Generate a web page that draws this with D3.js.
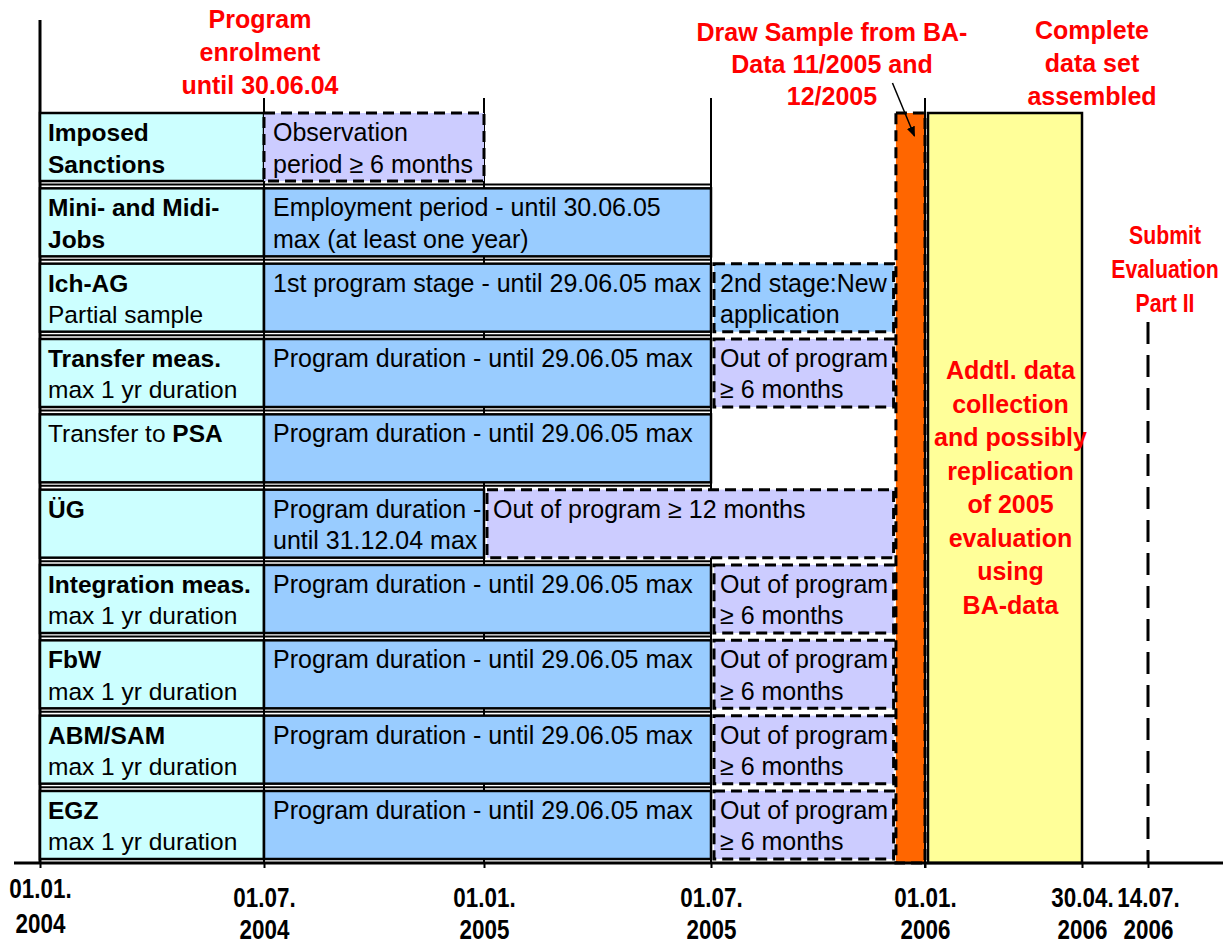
<!DOCTYPE html>
<html>
<head>
<meta charset="utf-8">
<script src="https://cdn.jsdelivr.net/npm/d3@7"></script>
<style>
  body { margin: 0; background: #fff; }
  svg { display: block; font-family: "Liberation Sans", Arial, sans-serif; }
</style>
</head>
<body>
<svg id="chart"></svg>
<script>
// rows of the timeline (label column)
const rows = ["Imposed Sanctions", "Mini- and Midi-Jobs", "Ich-AG", "Transfer meas.", "Transfer to PSA",
  "ÜG", "Integration meas.", "FbW", "ABM/SAM", "EGZ"]
// ** marks bold parts
const rowLabelLines = [
  ["**Imposed**", "**Sanctions**"],
  ["**Mini- and Midi-**", "**Jobs**"],
  ["**Ich-AG**", "Partial sample"],
  ["**Transfer meas.**", "max 1 yr duration"],
  ["Transfer to **PSA**"],
  ["**ÜG**"],
  ["**Integration meas.**", "max 1 yr duration"],
  ["**FbW**", "max 1 yr duration"],
  ["**ABM/SAM**", "max 1 yr duration"],
  ["**EGZ**", "max 1 yr duration"]
]

const tickDates = ["2004-01-01", "2004-07-01", "2005-01-01", "2005-07-01", "2006-01-01", "2006-04-30", "2006-07-14"]

// program / observation phases per row
const phases = [
  { row: "Imposed Sanctions", start: "2004-07-01", end: "2005-01-01", kind: "out", text: ["Observation", "period ≥ 6 months"] },
  { row: "Mini- and Midi-Jobs", start: "2004-07-01", end: "2005-07-01", kind: "program", text: ["Employment period - until 30.06.05", "max (at least one year)"] },
  { row: "Ich-AG", start: "2004-07-01", end: "2005-07-01", kind: "program", text: ["1st program stage - until 29.06.05 max"] },
  { row: "Ich-AG", start: "2005-07-01", end: "2005-12-05", kind: "stage2", text: ["2nd stage:New", "application"] },
  { row: "Transfer meas.", start: "2004-07-01", end: "2005-07-01", kind: "program", text: ["Program duration - until 29.06.05 max"] },
  { row: "Transfer meas.", start: "2005-07-01", end: "2005-12-05", kind: "out", text: ["Out of program", "≥ 6 months"] },
  { row: "Transfer to PSA", start: "2004-07-01", end: "2005-07-01", kind: "program", text: ["Program duration - until 29.06.05 max"] },
  { row: "ÜG", start: "2004-07-01", end: "2005-01-01", kind: "program", text: ["Program duration -", "until 31.12.04 max"] },
  { row: "ÜG", start: "2005-01-01", end: "2005-12-05", kind: "out", text: ["Out of program ≥ 12 months"] },
  { row: "Integration meas.", start: "2004-07-01", end: "2005-07-01", kind: "program", text: ["Program duration - until 29.06.05 max"] },
  { row: "Integration meas.", start: "2005-07-01", end: "2005-12-05", kind: "out", text: ["Out of program", "≥ 6 months"] },
  { row: "FbW", start: "2004-07-01", end: "2005-07-01", kind: "program", text: ["Program duration - until 29.06.05 max"] },
  { row: "FbW", start: "2005-07-01", end: "2005-12-05", kind: "out", text: ["Out of program", "≥ 6 months"] },
  { row: "ABM/SAM", start: "2004-07-01", end: "2005-07-01", kind: "program", text: ["Program duration - until 29.06.05 max"] },
  { row: "ABM/SAM", start: "2005-07-01", end: "2005-12-05", kind: "out", text: ["Out of program", "≥ 6 months"] },
  { row: "EGZ", start: "2004-07-01", end: "2005-07-01", kind: "program", text: ["Program duration - until 29.06.05 max"] },
  { row: "EGZ", start: "2005-07-01", end: "2005-12-05", kind: "out", text: ["Out of program", "≥ 6 months"] }
]

const labelStart = "2004-01-01"
const labelEnd = "2004-07-01"
const sampleDraw = ["2005-12-07", "2006-01-01"]
const assembly = ["2006-01-01", "2006-04-30"]
const submitDate = "2006-07-14"

const enrolNote = ["Program", "enrolment", "until 30.06.04"]
const sampleNote = ["Draw Sample from BA-", "Data 11/2005 and", "12/2005"]
const assembledNote = ["Complete", "data set", "assembled"]
const collectionNote = ["Addtl. data", "collection", "and possibly", "replication", "of 2005", "evaluation", "using", "BA-data"]
const submitNote = ["Submit", "Evaluation", "Part II"]

// ---- layout ----
const width = 1223
const height = 945
const axisY = 863
const tickX = [40, 264, 484, 711, 925, 1082, 1148]
const colors = { label: "#CCFFFF", program: "#99CCFF", stage2: "#99CCFF", out: "#CCCCFF", orange: "#FF6600", yellow: "#FFFF99", red: "#FF0000" }
const fontSize = 25
const dash = "11,6"
const parse = d3.timeParse("%Y-%m-%d")

const svg = d3.select("#chart").attr("width", width).attr("height", height)

// piecewise time scale through the tick dates
const x = d3.scaleTime()
  .domain(tickDates.map(parse))
  .range(tickX)

const y = d3.scaleBand()
  .domain(rows)
  .range([113, 859])
  .paddingInner(0.097)
  .paddingOuter(0)

function richLine(sel, line) {
  line.split("**").forEach((part, i) => {
    if (part === "") return
    sel.append("tspan").attr("font-weight", i % 2 ? "bold" : "normal").text(part)
  })
}

function redNote(lines, cx, y0, lh, squeeze = 1) {
  const t = svg.append("text")
    .attr("transform", `translate(${cx},0) scale(${squeeze},1)`)
    .attr("text-anchor", "middle")
    .attr("font-size", 25)
    .attr("font-weight", "bold")
    .attr("fill", colors.red)
  lines.forEach((l, i) => {
    t.append("tspan").attr("x", 0).attr("y", y0 + i * lh).text(l)
  })
}

// ---- vertical guides ----
const guides = svg.append("g").attr("stroke", "#000")
tickDates.forEach(d => {
  const xx = x(parse(d))
  if (d === labelStart) {
    guides.append("line").attr("x1", xx).attr("x2", xx).attr("y1", 20).attr("y2", axisY).attr("stroke-width", 3)
  } else if (d === submitDate) {
    guides.append("line").attr("x1", xx).attr("x2", xx).attr("y1", 322).attr("y2", axisY)
      .attr("stroke-width", 3).attr("stroke-dasharray", "22,11")
  } else if (d !== assembly[1]) {
    guides.append("line").attr("x1", xx).attr("x2", xx).attr("y1", 98).attr("y2", axisY).attr("stroke-width", 2)
  }
})

// row separators
svg.append("g").selectAll("line")
  .data(rows.slice(0, -1))
  .join("line")
  .attr("x1", x(parse(labelStart)))
  .attr("x2", x(parse("2005-07-01")))
  .attr("y1", d => y(d) + y.bandwidth() + 3.5)
  .attr("y2", d => y(d) + y.bandwidth() + 3.5)
  .attr("stroke", "#000")
  .attr("stroke-width", 2)

// ---- label column ----
const labels = svg.append("g").selectAll("g")
  .data(rows)
  .join("g")

labels.append("rect")
  .attr("x", x(parse(labelStart)))
  .attr("y", d => y(d))
  .attr("width", x(parse(labelEnd)) - x(parse(labelStart)))
  .attr("height", y.bandwidth())
  .attr("fill", colors.label)
  .attr("stroke", "#000")
  .attr("stroke-width", 2.5)

labels.each(function (d, i) {
  const g = d3.select(this)
  rowLabelLines[i].forEach((line, j) => {
    const t = g.append("text")
      .attr("x", x(parse(labelStart)) + 8)
      .attr("y", y(d) + 28 + j * 31.5)
      .attr("font-size", fontSize - 0.5)
    richLine(t, line)
  })
})

// ---- phase bars ----
const bars = svg.append("g").selectAll("g")
  .data(phases)
  .join("g")

bars.append("rect")
  .attr("x", d => x(parse(d.start)) + (d.start === labelEnd ? 0 : 3))
  .attr("y", d => y(d.row))
  .attr("width", d => x(parse(d.end)) - x(parse(d.start)) - (d.start === labelEnd ? 0 : 3))
  .attr("height", y.bandwidth())
  .attr("fill", d => colors[d.kind])
  .attr("stroke", "#000")
  .attr("stroke-width", d => d.kind === "program" ? 2.5 : 3)
  .attr("stroke-dasharray", d => d.kind === "program" ? null : dash)

bars.each(function (d) {
  const g = d3.select(this)
  d.text.forEach((line, j) => {
    g.append("text")
      .attr("x", x(parse(d.start)) + 9)
      .attr("y", y(d.row) + 28 + j * 31.5)
      .attr("font-size", fontSize)
      .text(line)
  })
})

// ---- sample draw (orange) and data assembly (yellow) ----
svg.append("rect")
  .attr("x", x(parse(sampleDraw[0])))
  .attr("y", y.range()[0])
  .attr("width", x(parse(sampleDraw[1])) - x(parse(sampleDraw[0])))
  .attr("height", axisY - y.range()[0])
  .attr("fill", colors.orange)
  .attr("stroke", "#000")
  .attr("stroke-width", 3)
  .attr("stroke-dasharray", dash)

svg.append("line")
  .attr("x1", x(parse(sampleDraw[1]))).attr("x2", x(parse(sampleDraw[1])))
  .attr("y1", 98).attr("y2", axisY + 5)
  .attr("stroke", "#000").attr("stroke-width", 2)

svg.append("rect")
  .attr("x", x(parse(assembly[0])) + 3)
  .attr("y", y.range()[0])
  .attr("width", x(parse(assembly[1])) - x(parse(assembly[0])) - 3)
  .attr("height", axisY - y.range()[0])
  .attr("fill", colors.yellow)
  .attr("stroke", "#000")
  .attr("stroke-width", 2.5)

// ---- axis ----
svg.append("line")
  .attr("x1", 14).attr("x2", width)
  .attr("y1", axisY).attr("y2", axisY)
  .attr("stroke", "#000").attr("stroke-width", 3)

const axis = svg.append("g")
  .attr("transform", `translate(0,${axisY})`)
  .call(d3.axisBottom(x).tickValues(tickDates.map(parse)).tickSizeInner(5).tickSizeOuter(0).tickFormat(""))

axis.select(".domain").remove()
axis.selectAll(".tick line").attr("stroke", "#000").attr("stroke-width", 2)

axis.selectAll(".tick").each(function (d, i) {
  const t = d3.select(this).append("text")
    .attr("fill", "#000")
    .attr("font-size", 28)
    .attr("font-weight", "bold")
    .attr("font-family", "'Liberation Sans', Arial, sans-serif")
    .attr("text-anchor", "middle")
    .attr("transform", "scale(0.8,1)")
  const y1 = i === 0 ? 35 : 44
  const y2 = i === 0 ? 70 : 76
  t.append("tspan").attr("x", 0).attr("y", y1).text(d3.timeFormat("%d.%m.")(d))
  t.append("tspan").attr("x", 0).attr("y", y2).text(d3.timeFormat("%Y")(d))
})

// ---- red annotations ----
redNote(enrolNote, x(parse(labelEnd)) - 4, 28, 33)
redNote(sampleNote, 832, 41, 32)
redNote(assembledNote, 1092, 39, 33)
redNote(collectionNote, (x(parse(assembly[0])) + x(parse(assembly[1]))) / 2 + 7, 379, 33.5)
redNote(submitNote, x(parse(submitDate)) + 17, 244, 34, 0.85)

// arrow to the sample draw bar
svg.append("defs").append("marker")
  .attr("id", "arrow")
  .attr("viewBox", "0 0 10 10")
  .attr("refX", 9).attr("refY", 5)
  .attr("markerWidth", 7).attr("markerHeight", 7)
  .attr("orient", "auto")
  .append("path").attr("d", "M0,1L10,5L0,9Z").attr("fill", "#000")

const arrowTip = (x(parse(sampleDraw[0])) + x(parse(sampleDraw[1]))) / 2 + 4
svg.append("line")
  .attr("x1", arrowTip - 22).attr("y1", 83)
  .attr("x2", arrowTip).attr("y2", 136)
  .attr("stroke", "#000").attr("stroke-width", 1.5)
  .attr("marker-end", "url(#arrow)")
</script>
</body>
</html>
